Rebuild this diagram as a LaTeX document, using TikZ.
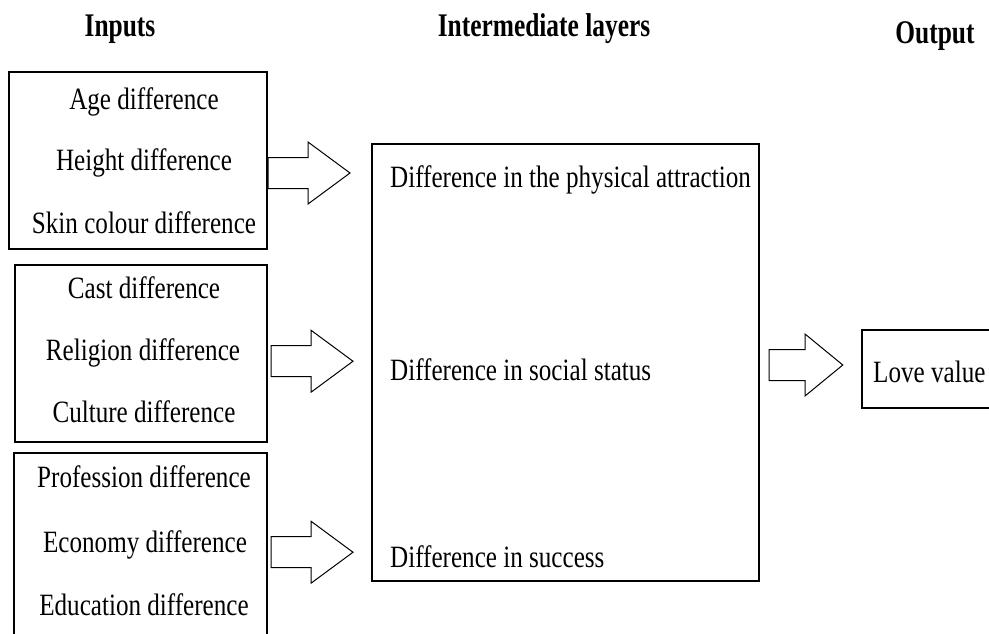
\documentclass[tikz,border=0pt]{standalone}
\usepackage{fontspec}
\setmainfont{Liberation Serif}
\usetikzlibrary{calc}
\newcommand\condtext[1]{\scalebox{0.81}[1]{#1}}
\newcommand\condtitle[1]{\scalebox{0.77}[1]{\bfseries #1}}
\tikzset{
  box/.style={draw=black, line width=1.1pt, inner sep=0pt, outer sep=0pt, fill=none},
  txt/.style={anchor=base, inner sep=0pt, font=\fontsize{31}{36}\selectfont},
  ttl/.style={anchor=base, inner sep=0pt, font=\fontsize{33}{38}\selectfont},
  pics/barrow/.style={code={
    \draw[line width=1pt, fill=white, line join=miter]
      (0,-15.5) -- (40,-15.5) -- (40,-31) -- (82,0) -- (40,31) -- (40,15.5) -- (0,15.5) -- cycle;}}
}
\begin{document}
\begin{tikzpicture}[x=1pt,y=-1pt]
\useasboundingbox (0,0) rectangle (989,634);
% titles
\node[ttl] (tin) at (120,37) {\condtitle{Inputs}};
\node[ttl] (tmid) at (544,37) {\condtitle{Intermediate layers}};
\node[ttl] (tout) at (935,44) {\condtitle{Output}};
% input boxes
\node[box, minimum width=258, minimum height=177] (b1) at (138,160.5) {};
\node[box, minimum width=252, minimum height=177] (b2) at (141,353.5) {};
\node[box, minimum width=253, minimum height=187] (b3) at (140.5,546.5) {};
\node[txt] (t11) at (144,110) {\condtext{Age difference}};
\node[txt] (t12) at (144,170) {\condtext{Height difference}};
\node[txt] (t13) at (144,233) {\condtext{Skin colour difference}};
\node[txt] (t21) at (144,298) {\condtext{Cast difference}};
\node[txt] (t22) at (143,360) {\condtext{Religion difference}};
\node[txt] (t23) at (144,422) {\condtext{Culture difference}};
\node[txt] (t31) at (144,487) {\condtext{Profession difference}};
\node[txt] (t32) at (145,552) {\condtext{Economy difference}};
\node[txt] (t33) at (144,615) {\condtext{Education difference}};
% intermediate box
\node[box, minimum width=387, minimum height=437] (mid) at (565.5,362.5) {};
\node[txt, anchor=base west] (m1) at (390,187) {\condtext{Difference in the physical attraction}};
\node[txt, anchor=base west] (m2) at (390,380) {\condtext{Difference in social status}};
\node[txt, anchor=base west] (m3) at (390,567) {\condtext{Difference in success}};
% output box
\node[box, minimum width=138, minimum height=78] (out) at (931,369) {};
\node[txt, anchor=base west] (o1) at (873,382) {\condtext{Love value}};
% block arrows
\pic at ($(b1.east)+(1,12.5)$) {barrow};
\pic at ($(b2.east |- m2)+(4,-8)$) {barrow};
\pic at ($(b3.east |- m3)+(4,-4)$) {barrow};
\pic[xscale=0.9] at ($(mid.east |- out)+(10,-4)$) {barrow};
\end{tikzpicture}
\end{document}
